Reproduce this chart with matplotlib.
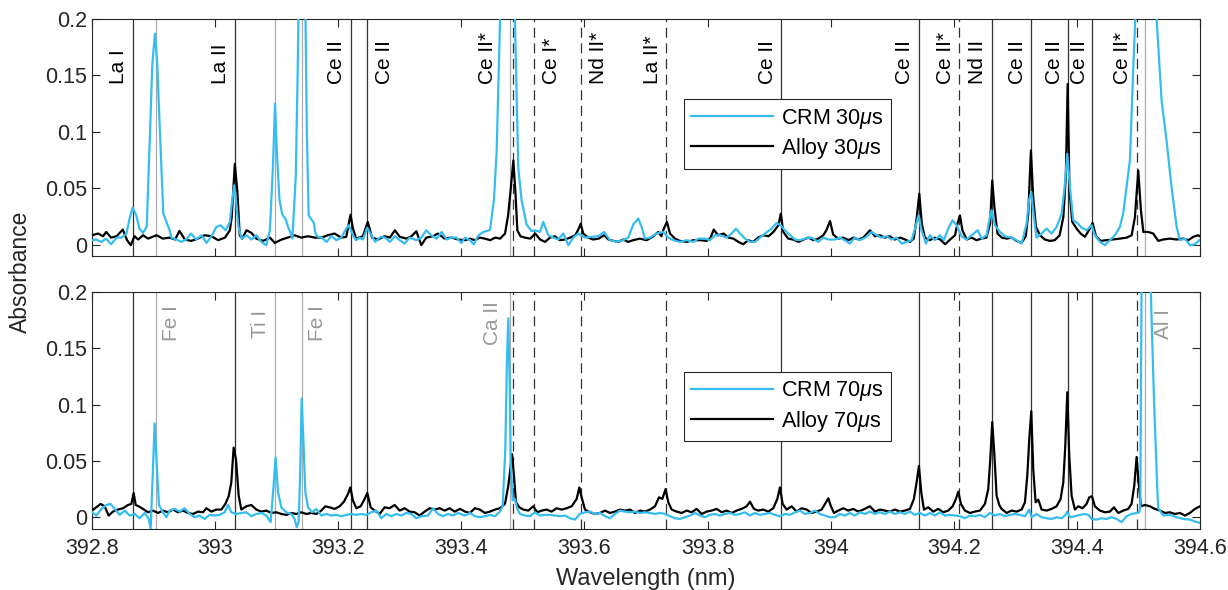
import numpy as np
import matplotlib
matplotlib.use("Agg")
import matplotlib.pyplot as plt
from matplotlib.ticker import FormatStrFormatter

plt.rcParams['font.family'] = ['Liberation Sans', 'DejaVu Sans']
plt.rcParams['mathtext.fontset'] = 'custom'
plt.rcParams['mathtext.it'] = 'Liberation Sans:italic'

# --- spectra (wavelength nm, absorbance) ---
top_w_alloy = [392.800, 392.810, 392.818, 392.823, 392.831, 392.840, 392.850, 392.857, 392.863, 392.869,
               392.875, 392.883, 392.891, 392.905, 392.915, 392.926, 392.935, 392.942, 392.951, 392.961,
               392.972, 392.983, 392.994, 393.005, 393.016, 393.024, 393.027, 393.032, 393.036, 393.040,
               393.044, 393.051, 393.059, 393.067, 393.078, 393.089, 393.097, 393.108, 393.118, 393.129,
               393.140, 393.151, 393.162, 393.173, 393.183, 393.194, 393.205, 393.213, 393.220, 393.224,
               393.229, 393.240, 393.248, 393.255, 393.265, 393.275, 393.284, 393.292, 393.300, 393.311,
               393.319, 393.327, 393.335, 393.343, 393.354, 393.362, 393.373, 393.384, 393.395, 393.406,
               393.414, 393.422, 393.430, 393.438, 393.447, 393.455, 393.463, 393.471, 393.476, 393.480,
               393.4845, 393.488, 393.491, 393.496, 393.503, 393.512, 393.520, 393.528, 393.536, 393.544,
               393.552, 393.560, 393.568, 393.577, 393.585, 393.590, 393.594, 393.598, 393.606, 393.614,
               393.623, 393.632, 393.639, 393.647, 393.655, 393.663, 393.671, 393.679, 393.690, 393.701,
               393.711, 393.720, 393.725, 393.729, 393.734, 393.739, 393.747, 393.755, 393.766, 393.777,
               393.788, 393.799, 393.805, 393.810, 393.817, 393.826, 393.834, 393.842, 393.850, 393.858,
               393.866, 393.874, 393.882, 393.891, 393.899, 393.907, 393.915, 393.919, 393.923, 393.931,
               393.939, 393.948, 393.956, 393.964, 393.972, 393.980, 393.988, 393.993, 393.999, 394.004,
               394.012, 394.020, 394.029, 394.037, 394.045, 394.053, 394.064, 394.072, 394.080, 394.088,
               394.096, 394.104, 394.113, 394.121, 394.129, 394.135, 394.140, 394.144, 394.148, 394.153,
               394.161, 394.169, 394.178, 394.186, 394.194, 394.202, 394.206, 394.210, 394.214, 394.221,
               394.229, 394.237, 394.245, 394.253, 394.259, 394.2625, 394.266, 394.271, 394.278, 394.286,
               394.294, 394.302, 394.310, 394.317, 394.321, 394.3253, 394.329, 394.3335, 394.340, 394.348,
               394.356, 394.364, 394.372, 394.378, 394.382, 394.385, 394.388, 394.3925, 394.3995, 394.406,
               394.413, 394.4212, 394.4255, 394.431, 394.4385, 394.448, 394.459, 394.470, 394.481, 394.489,
               394.4943, 394.4997, 394.504, 394.508, 394.516, 394.524, 394.5322, 394.540, 394.551, 394.562,
               394.573, 394.581, 394.589, 394.597, 394.600]
top_alloy = [0.0084, 0.0099, 0.0075, 0.0113, 0.0063, 0.0075, 0.0134, 0.0040, -0.0004, 0.0075,
             0.0046, 0.0084, 0.0054, 0.0084, 0.0054, 0.0063, 0.0046, 0.0122, 0.0046, 0.0034,
             0.0054, 0.0084, 0.0075, 0.0040, 0.0063, 0.0128, 0.0246, 0.0717, 0.0480, 0.0084,
             0.0054, 0.0128, 0.0105, 0.0054, 0.0034, 0.0063, 0.0016, 0.0046, 0.0063, 0.0084,
             0.0063, 0.0075, 0.0063, 0.0063, 0.0084, 0.0099, 0.0063, 0.0070, 0.0266, 0.0143,
             0.0054, 0.0075, 0.0202, 0.0063, 0.0046, 0.0075, 0.0063, 0.0128, 0.0070, 0.0054,
             0.0075, 0.0119, -0.0004, 0.0063, 0.0075, 0.0099, 0.0054, 0.0063, 0.0046, 0.0040,
             0.0054, 0.0040, 0.0063, 0.0054, 0.0040, 0.0063, 0.0054, 0.0099, 0.0260, 0.0480,
             0.0746, 0.0450, 0.0128, 0.0075, 0.0063, 0.0054, 0.0099, 0.0046, 0.0025, 0.0063,
             0.0075, 0.0040, 0.0046, 0.0063, 0.0084, 0.0134, 0.0187, 0.0099, 0.0063, 0.0046,
             0.0054, 0.0084, 0.0046, 0.0034, 0.0025, 0.0046, 0.0025, 0.0040, 0.0054, 0.0040,
             0.0070, 0.0113, 0.0075, 0.0143, 0.0202, 0.0099, 0.0054, 0.0034, 0.0025, 0.0040,
             0.0040, 0.0034, 0.0063, 0.0134, 0.0084, 0.0099, 0.0063, 0.0054, 0.0025, 0.0004,
             0.0040, 0.0025, 0.0063, 0.0084, 0.0075, 0.0113, 0.0172, 0.0275, 0.0113, 0.0054,
             0.0046, 0.0025, 0.0046, 0.0063, 0.0040, 0.0054, 0.0084, 0.0128, 0.0210, 0.0090,
             0.0054, 0.0063, 0.0040, 0.0063, 0.0046, 0.0063, 0.0128, 0.0075, 0.0084, 0.0063,
             0.0075, 0.0046, 0.0063, 0.0046, 0.0025, 0.0054, 0.0246, 0.0452, 0.0187, 0.0063,
             0.0040, 0.0063, 0.0046, 0.0004, 0.0046, 0.0084, 0.0187, 0.0260, 0.0128, 0.0046,
             0.0063, 0.0040, 0.0054, 0.0063, 0.0187, 0.0570, 0.0334, 0.0099, 0.0063, 0.0054,
             0.0063, 0.0034, 0.0016, 0.0075, 0.0275, 0.0835, 0.0420, 0.0158, 0.0084, 0.0046,
             0.0034, 0.0040, 0.0084, 0.0246, 0.0600, 0.1424, 0.0480, 0.0202, 0.0143, 0.0099,
             0.0070, 0.0143, 0.0193, 0.0075, 0.0034, 0.0040, 0.0046, 0.0054, 0.0063, 0.0084,
             0.0246, 0.0658, 0.0305, 0.0113, 0.0113, 0.0099, 0.0034, 0.0046, 0.0054, 0.0046,
             0.0054, 0.0040, 0.0070, 0.0084, 0.0075]

top_w_crm = [392.800, 392.807, 392.815, 392.823, 392.831, 392.840, 392.848, 392.856, 392.861, 392.866,
             392.872, 392.877, 392.883, 392.8889, 392.8942, 392.898, 392.9023, 392.906, 392.9105, 392.9158,
             392.921, 392.926, 392.929, 392.937, 392.945, 392.953, 392.961, 392.969, 392.978, 392.986,
             392.994, 393.002, 393.009, 393.017, 393.024, 393.027, 393.031, 393.034, 393.038, 393.043,
             393.051, 393.059, 393.067, 393.075, 393.083, 393.089, 393.094, 393.0973, 393.1005, 393.1045,
             393.109, 393.115, 393.119, 393.1225, 393.1255, 393.131, 393.134, 393.137, 393.142, 393.146,
             393.149, 393.152, 393.157, 393.160, 393.163, 393.167, 393.173, 393.181, 393.189, 393.197,
             393.205, 393.213, 393.217, 393.224, 393.229, 393.235, 393.240, 393.247, 393.254, 393.260,
             393.269, 393.276, 393.284, 393.292, 393.300, 393.308, 393.316, 393.327, 393.335, 393.343,
             393.351, 393.360, 393.368, 393.376, 393.384, 393.392, 393.400, 393.406, 393.414, 393.420,
             393.428, 393.436, 393.4465, 393.453, 393.4574, 393.4628, 393.468, 393.476, 393.4823, 393.487,
             393.4925, 393.498, 393.506, 393.514, 393.5196, 393.5278, 393.5332, 393.5413, 393.5494, 393.5575,
             393.5657, 393.5738, 393.5819, 393.5900, 393.6009, 393.6117, 393.6225, 393.6317, 393.6415, 393.6523,
             393.6631, 393.6713, 393.6794, 393.6875, 393.6929, 393.6983, 393.7065, 393.7173, 393.7281, 393.7362,
             393.7444, 393.7552, 393.7660, 393.7769, 393.7850, 393.7958, 393.8039, 393.8120, 393.8202, 393.8310,
             393.8391, 393.8462, 393.8527, 393.8608, 393.8689, 393.8770, 393.8852, 393.8933, 393.9041, 393.9122,
             393.9187, 393.9258, 393.9339, 393.9420, 393.9501, 393.9582, 393.9691, 393.9799, 393.9880, 393.9962,
             394.007, 394.015, 394.023, 394.031, 394.0394, 394.0475, 394.056, 394.0665, 394.0746, 394.0827,
             394.0909, 394.099, 394.1071, 394.1152, 394.1233, 394.1315, 394.1385, 394.1428, 394.1477, 394.1548,
             394.1612, 394.1694, 394.1775, 394.184, 394.191, 394.198, 394.2046, 394.2127, 394.2208, 394.229,
             394.2387, 394.2452, 394.2533, 394.2576, 394.2614, 394.2668, 394.275, 394.2831, 394.2939, 394.302,
             394.3102, 394.3183, 394.3221, 394.3259, 394.3302, 394.3345, 394.3427, 394.3508, 394.3589, 394.367,
             394.3752, 394.3806, 394.3844, 394.3887, 394.3941, 394.4006, 394.4076, 394.4157, 394.4239, 394.4293,
             394.4374, 394.4455, 394.4537, 394.4618, 394.4699, 394.4753, 394.4862, 394.4916, 394.4955, 394.502,
             394.512, 394.522, 394.5295, 394.5376, 394.5457, 394.5538, 394.562, 394.5673, 394.5755, 394.5836,
             394.5917, 394.600]
top_crm = [0.0040, 0.0046, 0.0025, 0.0054, 0.0004, 0.0063, 0.0063, 0.0099, 0.0231, 0.0328,
           0.0260, 0.0143, 0.0105, 0.0160, 0.0980, 0.1600, 0.1870, 0.1600, 0.0980, 0.0280,
           0.0200, 0.0130, 0.0063, 0.0046, 0.0025, 0.0046, 0.0099, 0.0046, 0.0084, 0.0016,
           0.0075, 0.0158, 0.0172, 0.0128, 0.0202, 0.0360, 0.0526, 0.0390, 0.0158, 0.0054,
           0.0084, 0.0046, 0.0084, 0.0025, -0.0004, 0.0128, 0.0700, 0.1250, 0.0800, 0.0400,
           0.0270, 0.0220, 0.0150, 0.0110, 0.0054, 0.0600, 0.1500, 0.2600, 0.3000, 0.2400,
           0.1000, 0.0260, 0.0220, 0.0200, 0.0100, 0.0070, 0.0063, 0.0025, 0.0075, 0.0040,
           0.0063, 0.0143, 0.0172, 0.0084, 0.0040, 0.0063, 0.0046, 0.0150, 0.0084, 0.0025,
           0.0070, 0.0063, 0.0025, 0.0075, 0.0040, 0.0010, 0.0063, 0.0040, 0.0063, 0.0128,
           0.0084, 0.0054, 0.0113, 0.0046, 0.0063, 0.0063, 0.0016, 0.0063, 0.0040, 0.0004,
           0.0084, 0.0113, 0.0130, 0.0400, 0.0830, 0.1980, 0.2800, 0.3200, 0.2800, 0.2000,
           0.0680, 0.0390, 0.0180, 0.0120, 0.0128, 0.0113, 0.0202, 0.0084, 0.0063, 0.0046,
           0.0099, -0.0004, 0.0063, 0.0099, 0.0063, 0.0070, 0.0075, 0.0113, 0.0040, 0.0025,
           0.0040, 0.0063, 0.0181, 0.0231, 0.0158, 0.0054, 0.0063, 0.0099, 0.0113, 0.0063,
           0.0040, 0.0025, 0.0040, 0.0025, 0.0054, 0.0054, 0.0040, 0.0084, 0.0084, 0.0063,
           0.0099, 0.0143, 0.0099, 0.0054, 0.0025, 0.0025, 0.0063, 0.0099, 0.0143, 0.0193,
           0.0172, 0.0128, 0.0084, 0.0046, 0.0040, 0.0054, 0.0063, 0.0025, 0.0063, 0.0046,
           0.0046, 0.0063, 0.0040, 0.0010, 0.0063, 0.0040, 0.0063, 0.0113, 0.0084, 0.0063,
           0.0075, 0.0046, 0.0063, 0.0010, 0.0025, 0.0040, 0.0172, 0.0260, 0.0128, 0.0010,
           0.0084, 0.0040, 0.0084, 0.0040, 0.0143, 0.0216, 0.0172, 0.0075, 0.0046, 0.0084,
           0.0128, 0.0054, 0.0084, 0.0216, 0.0305, 0.0172, 0.0113, 0.0075, 0.0063, 0.0040,
           0.0010, 0.0187, 0.0393, 0.0467, 0.0246, 0.0063, 0.0099, 0.0143, 0.0099, 0.0158,
           0.0275, 0.0540, 0.0805, 0.0510, 0.0216, 0.0193, 0.0151, 0.0128, 0.0172, 0.0084,
           0.0025, -0.0004, 0.0040, 0.0084, 0.0158, 0.0280, 0.0750, 0.1570, 0.2100, 0.2800,
           0.3500, 0.2800, 0.2000, 0.1280, 0.0920, 0.0510, 0.0160, 0.0040, 0.0054, -0.0004,
           0.0004, 0.0046]

bot_w_alloy = [392.800, 392.807, 392.814, 392.8206, 392.827, 392.834, 392.842, 392.8504, 392.8585, 392.8639,
               392.8677, 392.871, 392.8758, 392.8829, 392.891, 392.899, 392.9072, 392.9153, 392.9235, 392.9316,
               392.9397, 392.9478, 392.956, 392.9641, 392.9722, 392.9803, 392.9857, 392.9939, 393.002, 393.0101,
               393.0166, 393.022, 393.0263, 393.0301, 393.0339, 393.0383, 393.0426, 393.0507, 393.0588, 393.067,
               393.0751, 393.0832, 393.0913, 393.0994, 393.1076, 393.1157, 393.1238, 393.1319, 393.140, 393.1482,
               393.1563, 393.1644, 393.1725, 393.179, 393.186, 393.1941, 393.2023, 393.2093, 393.2158, 393.2197,
               393.224, 393.2294, 393.2364, 393.2429, 393.2473, 393.2527, 393.2592, 393.2673, 393.2754, 393.2835,
               393.2917, 393.2998, 393.3079, 393.316, 393.3242, 393.3323, 393.3404, 393.3485, 393.3567, 393.3648,
               393.3729, 393.381, 393.3891, 393.398, 393.406, 393.414, 393.422, 393.430, 393.4384, 393.4465,
               393.4547, 393.4628, 393.4709, 393.4763, 393.479, 393.4823, 393.4855, 393.4888, 393.4942, 393.5007,
               393.5088, 393.5169, 393.5234, 393.5305, 393.5386, 393.5467, 393.5548, 393.5630, 393.5711, 393.5792,
               393.5873, 393.5917, 393.5954, 393.6009, 393.609, 393.6171, 393.6252, 393.6334, 393.6415, 393.6496,
               393.6577, 393.6658, 393.674, 393.6821, 393.6902, 393.6983, 393.7065, 393.7146, 393.7211, 393.7265,
               393.7319, 393.7362, 393.7417, 393.7498, 393.7579, 393.766, 393.7741, 393.7823, 393.7904, 393.7985,
               393.8066, 393.8147, 393.8229, 393.831, 393.8391, 393.8472, 393.8554, 393.8635, 393.8689, 393.8754,
               393.8824, 393.8905, 393.8987, 393.9068, 393.9133, 393.9176, 393.922, 393.9285, 393.9366, 393.9447,
               393.9528, 393.961, 393.9691, 393.9772, 393.9853, 393.9924, 393.9962, 394.000, 394.0054, 394.0123,
               394.0205, 394.0286, 394.0367, 394.0448, 394.053, 394.0638, 394.0719, 394.080, 394.0881, 394.0963,
               394.1044, 394.1125, 394.1206, 394.1288, 394.1352, 394.1396, 394.1434, 394.1472, 394.1515, 394.1585,
               394.1667, 394.1748, 394.1829, 394.191, 394.1981, 394.2035, 394.2073, 394.2116, 394.2181, 394.2262,
               394.2344, 394.2425, 394.2506, 394.256, 394.2593, 394.2625, 394.2658, 394.2696, 394.2739, 394.2777,
               394.2858, 394.2939, 394.302, 394.3102, 394.3156, 394.3194, 394.3226, 394.3259, 394.3291, 394.3329,
               394.3373, 394.3427, 394.3508, 394.3589, 394.367, 394.3735, 394.3779, 394.3811, 394.3844, 394.3876,
               394.3914, 394.3968, 394.4022, 394.4093, 394.4157, 394.4201, 394.4244, 394.4293, 394.4374, 394.4455,
               394.4537, 394.4602, 394.4672, 394.4753, 394.4834, 394.4888, 394.4932, 394.497, 394.5008, 394.504,
               394.5105, 394.5186, 394.5268, 394.5349, 394.543, 394.5511, 394.5592, 394.5674, 394.5755, 394.5836,
               394.5917, 394.600]
bot_alloy = [0.0059, 0.0088, 0.0118, 0.0097, 0.0015, 0.0050, 0.0068, 0.0080, 0.0109, 0.0118,
             0.0215, 0.0109, 0.0097, 0.0074, 0.0044, 0.0059, 0.0038, 0.0059, 0.0044, 0.0068,
             0.0044, 0.0059, 0.0038, 0.0029, 0.0050, 0.0044, 0.0080, 0.0050, 0.0068, 0.0068,
             0.0118, 0.0186, 0.0309, 0.0618, 0.0515, 0.0191, 0.0068, 0.0097, 0.0109, 0.0068,
             0.0050, 0.0059, 0.0038, 0.0044, 0.0029, 0.0021, 0.0038, 0.0029, 0.0044, 0.0029,
             0.0038, 0.0029, 0.0059, 0.0097, 0.0088, 0.0074, 0.0097, 0.0138, 0.0206, 0.0265,
             0.0147, 0.0080, 0.0097, 0.0162, 0.0215, 0.0088, 0.0059, 0.0029, 0.0088, 0.0080,
             0.0109, 0.0059, 0.0080, 0.0050, 0.0044, 0.0015, 0.0050, 0.0080, 0.0068, 0.0080,
             0.0059, 0.0080, 0.0050, 0.0074, 0.0050, 0.0038, 0.0080, 0.0068, 0.0038, 0.0050,
             0.0068, 0.0080, 0.0118, 0.0280, 0.0398, 0.0560, 0.0368, 0.0133, 0.0088, 0.0068,
             0.0059, 0.0097, 0.0044, 0.0059, 0.0068, 0.0050, 0.0080, 0.0068, 0.0080, 0.0097,
             0.0162, 0.0265, 0.0177, 0.0068, 0.0044, 0.0029, 0.0038, 0.0059, 0.0038, 0.0050,
             0.0068, 0.0059, 0.0068, 0.0038, 0.0059, 0.0050, 0.0068, 0.0097, 0.0177, 0.0162,
             0.0250, 0.0133, 0.0068, 0.0050, 0.0038, 0.0059, 0.0044, 0.0074, 0.0029, 0.0050,
             0.0059, 0.0074, 0.0044, 0.0059, 0.0038, 0.0059, 0.0074, 0.0097, 0.0138, 0.0074,
             0.0059, 0.0068, 0.0050, 0.0080, 0.0162, 0.0265, 0.0118, 0.0068, 0.0097, 0.0050,
             0.0080, 0.0068, 0.0038, 0.0050, 0.0068, 0.0133, 0.0168, 0.0103, 0.0038, 0.0059,
             0.0080, 0.0059, 0.0074, 0.0050, 0.0068, 0.0097, 0.0050, 0.0068, 0.0059, 0.0050,
             0.0068, 0.0050, 0.0059, 0.0074, 0.0162, 0.0309, 0.0456, 0.0221, 0.0068, 0.0088,
             0.0050, 0.0074, 0.0044, 0.0059, 0.0097, 0.0162, 0.0227, 0.0118, 0.0059, 0.0038,
             0.0050, 0.0059, 0.0118, 0.0250, 0.0515, 0.0845, 0.0570, 0.0191, 0.0109, 0.0074,
             0.0038, 0.0059, 0.0050, 0.0068, 0.0133, 0.0368, 0.0690, 0.0942, 0.0427, 0.0133,
             0.0156, 0.0068, 0.0059, 0.0074, 0.0097, 0.0162, 0.0309, 0.0630, 0.1110, 0.0545,
             0.0191, 0.0068, 0.0097, 0.0080, 0.0118, 0.0177, 0.0186, 0.0097, 0.0059, 0.0044,
             0.0050, 0.0088, 0.0038, 0.0059, 0.0074, 0.0118, 0.0280, 0.0535, 0.0280, 0.0097,
             0.0109, 0.0097, 0.0074, 0.0059, 0.0038, 0.0044, 0.0029, 0.0038, 0.0015, 0.0038,
             0.0074, 0.0097]

bot_w_crm = [392.800, 392.807, 392.8152, 392.8233, 392.8303, 392.8368, 392.845, 392.8531, 392.8612, 392.8693,
             392.8774, 392.8856, 392.8921, 392.8953, 392.898, 392.9018, 392.9056, 392.9088, 392.9137, 392.9208,
             392.9262, 392.9343, 392.9424, 392.9505, 392.9587, 392.9668, 392.9749, 392.983, 392.9911, 392.9993,
             393.0074, 393.0155, 393.0209, 393.0263, 393.0345, 393.0426, 393.0507, 393.0588, 393.067, 393.0751,
             393.0832, 393.0902, 393.095, 393.0983, 393.1022, 393.1076, 393.1157, 393.1238, 393.1292, 393.1325,
             393.1357, 393.1384, 393.1406, 393.1433, 393.1466, 393.1509, 393.1574, 393.1644, 393.1725, 393.1807,
             393.1888, 393.1969, 393.205, 393.2132, 393.2213, 393.2294, 393.2375, 393.2457, 393.2538, 393.2619,
             393.270, 393.2781, 393.2863, 393.2944, 393.3025, 393.3106, 393.3187, 393.3269, 393.335, 393.3458,
             393.3539, 393.362, 393.3702, 393.3783, 393.3864, 393.3945, 393.406, 393.414, 393.422, 393.430,
             393.4384, 393.4465, 393.4547, 393.4617, 393.4671, 393.4714, 393.4741, 393.4763, 393.4785, 393.4801,
             393.4834, 393.4871, 393.4909, 393.4953, 393.5034, 393.5115, 393.5196, 393.5278, 393.5359, 393.544,
             393.5521, 393.5603, 393.5684, 393.5765, 393.5846, 393.5927, 393.6009, 393.609, 393.6171, 393.6252,
             393.6334, 393.6415, 393.6496, 393.6577, 393.6658, 393.674, 393.6821, 393.6902, 393.6983, 393.7065,
             393.7146, 393.7227, 393.7308, 393.739, 393.7471, 393.7552, 393.7633, 393.7714, 393.7796, 393.7877,
             393.7958, 393.8039, 393.812, 393.8202, 393.8283, 393.8364, 393.8445, 393.8527, 393.8608, 393.8689,
             393.877, 393.8852, 393.8933, 393.9014, 393.9095, 393.9176, 393.9258, 393.9339, 393.942, 393.9501,
             393.9582, 393.9664, 393.9745, 393.9826, 393.9907, 393.9989, 394.0069, 394.015, 394.0232, 394.0313,
             394.0394, 394.0475, 394.0557, 394.0638, 394.0719, 394.080, 394.0881, 394.0963, 394.1044, 394.1125,
             394.1206, 394.1288, 394.1369, 394.145, 394.1531, 394.1612, 394.1694, 394.1775, 394.1856, 394.1937,
             394.2019, 394.210, 394.2181, 394.2262, 394.2344, 394.2425, 394.2506, 394.2587, 394.2668, 394.275,
             394.2831, 394.2912, 394.2993, 394.3075, 394.3156, 394.3226, 394.3264, 394.3345, 394.3427, 394.3508,
             394.3589, 394.367, 394.3752, 394.3806, 394.3844, 394.3887, 394.3968, 394.405, 394.4131, 394.4185,
             394.4239, 394.432, 394.4401, 394.4482, 394.4564, 394.4645, 394.4726, 394.4807, 394.4888, 394.497,
             394.5013, 394.503, 394.5055, 394.510, 394.515, 394.519, 394.5255, 394.531, 394.5322, 394.5403,
             394.5511, 394.562, 394.5728, 394.5836, 394.5917, 394.600]
bot_crm = [0.0044, 0.0015, 0.0074, 0.0109, 0.0118, 0.0074, 0.0021, 0.0059, 0.0015, 0.0029,
           -0.0009, 0.0038, -0.0015, -0.0103, 0.0280, 0.0833, 0.0427, 0.0109, 0.0059, 0.0000,
           0.0059, 0.0074, 0.0050, 0.0080, 0.0029, 0.0000, 0.0015, -0.0015, 0.0021, 0.0015,
           0.0021, 0.0044, 0.0109, 0.0044, 0.0029, 0.0038, 0.0044, 0.0009, 0.0029, 0.0038,
           0.0015, -0.0044, 0.0280, 0.0530, 0.0221, 0.0088, 0.0044, 0.0029, -0.0015, -0.0088,
           -0.0044, 0.0427, 0.1054, 0.0700, 0.0221, 0.0088, 0.0044, 0.0074, 0.0015, 0.0029,
           0.0015, 0.0021, 0.0009, 0.0021, 0.0029, 0.0021, 0.0029, 0.0021, 0.0044, 0.0059,
           -0.0009, 0.0029, 0.0009, 0.0029, 0.0015, 0.0038, 0.0029, -0.0009, 0.0009, 0.0015,
           0.0080, 0.0029, 0.0009, 0.0029, 0.0015, 0.0038, 0.0015, 0.0038, 0.0009, 0.0000,
           0.0009, 0.0021, 0.0009, 0.0044, 0.0097, 0.0600, 0.1400, 0.1767, 0.1200, 0.0500,
           0.0150, 0.0162, 0.0074, 0.0029, 0.0015, 0.0009, 0.0044, 0.0015, 0.0021, 0.0021,
           0.0015, 0.0009, 0.0015, -0.0009, -0.0021, 0.0029, 0.0044, 0.0050, 0.0029, 0.0038,
           0.0009, -0.0009, 0.0029, 0.0059, 0.0050, 0.0044, 0.0050, 0.0038, 0.0044, 0.0038,
           0.0029, 0.0038, 0.0029, 0.0009, -0.0009, -0.0015, 0.0000, 0.0015, 0.0038, 0.0015,
           0.0000, 0.0021, 0.0029, 0.0015, 0.0029, 0.0038, 0.0021, 0.0029, 0.0044, 0.0015,
           0.0038, 0.0021, 0.0029, 0.0038, 0.0021, 0.0009, 0.0029, 0.0021, 0.0044, 0.0059,
           0.0029, 0.0038, 0.0059, 0.0029, 0.0015, 0.0000, 0.0000, 0.0029, 0.0015, 0.0038,
           0.0015, 0.0044, 0.0029, 0.0050, 0.0029, 0.0044, 0.0029, 0.0050, 0.0029, 0.0044,
           0.0029, 0.0050, 0.0021, 0.0038, 0.0015, 0.0038, 0.0015, 0.0044, 0.0015, 0.0021,
           0.0015, 0.0009, -0.0009, 0.0015, 0.0009, 0.0021, 0.0000, 0.0038, 0.0015, 0.0029,
           0.0009, 0.0021, 0.0029, 0.0021, 0.0009, 0.0068, 0.0000, 0.0029, 0.0000, -0.0009,
           -0.0015, 0.0000, -0.0009, 0.0015, 0.0050, 0.0000, 0.0009, 0.0021, 0.0029, 0.0021,
           -0.0015, -0.0021, -0.0009, -0.0015, 0.0000, -0.0015, -0.0044, 0.0009, 0.0029, 0.0038,
           0.0044, 0.0100, 0.2500, 0.3500, 0.3500, 0.2200, 0.1000, 0.0200, 0.0080, 0.0015,
           0.0021, 0.0000, -0.0015, -0.0021, -0.0038, -0.0050]

# --- reference lines: wavelength, kind, labels ---
line_w = [392.867, 392.904, 393.032, 393.098, 393.141, 393.220, 393.247, 393.479, 393.484, 393.518,
          393.594, 393.733, 393.919, 394.144, 394.208, 394.2625, 394.326, 394.385, 394.424, 394.498,
          394.511]
line_kind = ['k', 'g', 'k', 'g', 'g', 'k', 'k', 'g', 'd', 'd',
             'd', 'd', 'k', 'k', 'd', 'k', 'k', 'k', 'k', 'd',
             'g']
top_labels = ['La I', '', 'La II', '', '', 'Ce II', 'Ce II', '', 'Ce II*', 'Ce I*',
              'Nd II*', 'La II*', 'Ce II', 'Ce II', 'Ce II*', 'Nd II', 'Ce II', 'Ce II', 'Ce II', 'Ce II*',
              '']
bot_labels = ['', 'Fe I', '', 'Ti I', 'Fe I', '', '', 'Ca II', '', '',
              '', '', '', '', '', '', '', '', '', '',
              'Al I']
# label offset from its line, in pixels (negative = text on the left)
top_dx = [-5, 0, -5, 0, 0, -5, 8, 0, -16, 8,
          8, -4, -4, -5, -4, -5, -4, -4, -3, -5,
          0]
bot_dx = [0, 6, 0, -5, 6, 0, 0, -8, 0, 0,
          0, 0, 0, 0, 0, 0, 0, 0, 0, 0,
          9]

CRM_COLOR = '#36bdf0'
W = 1228
H = 590
fig = plt.figure(figsize=(W / 100, H / 100), dpi=100)

ax_top = fig.add_axes([92 / W, 1 - 256 / H, 1108 / W, 237 / H])
ax_bot = fig.add_axes([92 / W, 1 - 528.5 / H, 1108 / W, 236.5 / H])

line_styles = {
    'k': dict(color='#333333', lw=0.9, ls='-'),
    'g': dict(color='#aaaaaa', lw=0.9, ls='-'),
    'd': dict(color='#333333', lw=0.9, ls=(0, (8, 4.5))),
}

panels = [
    (ax_top, top_w_alloy, top_alloy, top_w_crm, top_crm, '30'),
    (ax_bot, bot_w_alloy, bot_alloy, bot_w_crm, bot_crm, '70'),
]

for ax, wa, ya, wc, yc, gate in panels:
    for w, kind in zip(line_w, line_kind):
        ax.axvline(w, zorder=1, **line_styles[kind])
    h_alloy, = ax.plot(wa, ya, color='black', lw=1.6, zorder=3)
    h_crm, = ax.plot(wc, yc, color=CRM_COLOR, lw=1.6, zorder=4)
    ax.set_xlim(392.8, 394.6)
    ax.set_ylim(-0.01, 0.2)
    ax.set_xticks(np.arange(392.8, 394.61, 0.2))
    ax.set_yticks([0, 0.05, 0.1, 0.15, 0.2])
    ax.xaxis.set_major_formatter(FormatStrFormatter('%g'))
    ax.yaxis.set_major_formatter(FormatStrFormatter('%g'))
    ax.tick_params(direction='in', top=True, right=True, length=6, width=0.8,
                   labelsize=15.5, color='#262626', labelcolor='#262626')
    ax.tick_params(axis='x', pad=7)
    for sp in ax.spines.values():
        sp.set_color('#262626')
        sp.set_linewidth(0.8)
    leg = ax.legend([h_crm, h_alloy], [f'CRM {gate}$\\mu$s', f'Alloy {gate}$\\mu$s'],
                    loc='upper left', bbox_to_anchor=(0.534, 0.662), borderaxespad=0,
                    fontsize=15.5, handlelength=3.8, handletextpad=0.35, borderpad=0.35,
                    labelspacing=0.25, fancybox=False, framealpha=1, edgecolor='#262626')
    leg.get_frame().set_linewidth(0.8)

ax_top.tick_params(labelbottom=False)

# line labels
px = 72 / 100  # one pixel in points
for w, lab, dx in zip(line_w, top_labels, top_dx):
    if lab:
        ax_top.annotate(lab, xy=(w, 0.142), xytext=(dx * px, 0), textcoords='offset points',
                        rotation=90, ha='right' if dx < 0 else 'left', va='bottom',
                        fontsize=15, color='black')
for w, lab, dx in zip(line_w, bot_labels, bot_dx):
    if lab:
        ax_bot.annotate(lab, xy=(w, 0.172), xytext=(dx * px, 0), textcoords='offset points',
                        rotation=90, ha='left' if dx > 0 else 'right', va='center',
                        fontsize=15, color='#999999')

ax_bot.set_xlabel('Wavelength (nm)', fontsize=17, color='#262626', labelpad=6)
fig.text(20 / W, 1 - 272 / H, 'Absorbance', rotation=90, ha='center', va='center',
         fontsize=16.5, color='#262626')

fig.savefig('out.png', dpi=100)
